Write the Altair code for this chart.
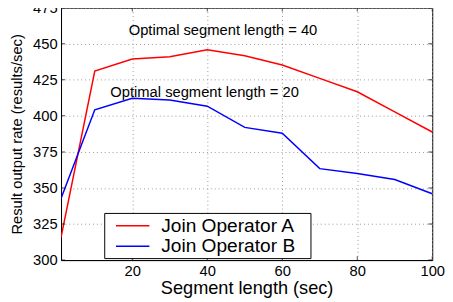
import altair as alt
import pandas as pd

seg = [1, 10, 20, 30, 40, 50, 60, 70, 80, 90, 100]
rate_a = [315.7, 431.0, 439.4, 441.0, 445.8, 441.7, 435.3, 426.0, 416.7, 402.7, 388.8]
rate_b = [342.7, 404.2, 412.2, 411.0, 406.7, 392.0, 387.9, 363.4, 360.0, 355.9, 346.0]
series = ["Join Operator A", "Join Operator B"]
colors = ["#ff0000", "#0000ff"]
x_ticks = [20, 40, 60, 80, 100]
y_ticks = [300, 325, 350, 375, 400, 425, 450, 475]
notes = ["Optimal segment length = 40", "Optimal segment length = 20"]
note_x = [44.2, 39.3]
note_y = [459.4, 416.5]

rows = []
for s, vals in zip(series, [rate_a, rate_b]):
    for x, v in zip(seg, vals):
        rows.append({"seg": x, "rate": v, "series": s})
df = pd.DataFrame(rows)
notes_df = pd.DataFrame({"x": note_x, "y": note_y, "text": notes})
xt_df = pd.DataFrame({"x": x_ticks})
yt_df = pd.DataFrame({"y": y_ticks})

FONT = "Liberation Sans"

xs = alt.Scale(domain=[1, 100], nice=False, zero=False)
ys = alt.Scale(domain=[300, 475], nice=False, zero=False)
x_axis = alt.Axis(values=x_ticks, title="Segment length (sec)", labelOverlap=False)
y_axis = alt.Axis(values=y_ticks, title="Result output rate (results/sec)", labelOverlap=False)

lines = alt.Chart(df).mark_line(strokeWidth=1.5, clip=True).encode(
    x=alt.X("seg:Q", scale=xs, axis=x_axis),
    y=alt.Y("rate:Q", scale=ys, axis=y_axis),
    color=alt.Color("series:N", title=None,
                    scale=alt.Scale(domain=series, range=colors),
                    legend=alt.Legend(orient="none", legendX=44, legendY=209,
                                      strokeColor="black", fillColor="white",
                                      padding=2, symbolType="M-0.1,0H3.3M19.2,0",
                                      symbolSize=400, symbolStrokeWidth=1.5,
                                      labelFontSize=19.5, labelFont=FONT,
                                      labelColor="black", labelOffset=34,
                                      rowPadding=0)),
)

text = alt.Chart(notes_df).mark_text(fontSize=15, font=FONT, color="black").encode(
    x=alt.X("x:Q", scale=xs, axis=x_axis),
    y=alt.Y("y:Q", scale=ys, axis=y_axis),
    text="text:N",
)

def yticks(px):
    return alt.Chart(yt_df).mark_tick(orient="horizontal", size=8, thickness=1,
                                      color="black", clip=True).encode(
        y=alt.Y("y:Q", scale=ys, axis=y_axis), x=alt.value(px))

def xticks(px):
    return alt.Chart(xt_df).mark_tick(orient="vertical", size=8, thickness=1,
                                      color="black", clip=True).encode(
        x=alt.X("x:Q", scale=xs, axis=x_axis), y=alt.value(px))

chart = alt.layer(lines, text, yticks(0), yticks(378), xticks(0), xticks(257)).properties(
    width=378, height=257,
    autosize=alt.AutoSizeParams(type="none"),
    padding={"left": 54, "top": -3, "right": 13, "bottom": 40},
).configure_view(
    stroke="black", strokeWidth=1
).configure_axis(
    labelFont=FONT, titleFont=FONT, labelFontSize=15,
    labelColor="black", titleColor="black", titleFontWeight="normal",
    domainColor="black", ticks=False, labelPadding=4,
    gridColor="#999999", gridDash=[1, 3], gridWidth=1, gridOpacity=1,
).configure_axisY(
    titlePadding=8, labelFlush=False, titleFontSize=15
).configure_axisX(
    titlePadding=0, labelFlush=False, titleFontSize=18.5
)

chart.save("out.html", embed_options={"renderer": "svg", "actions": False})
